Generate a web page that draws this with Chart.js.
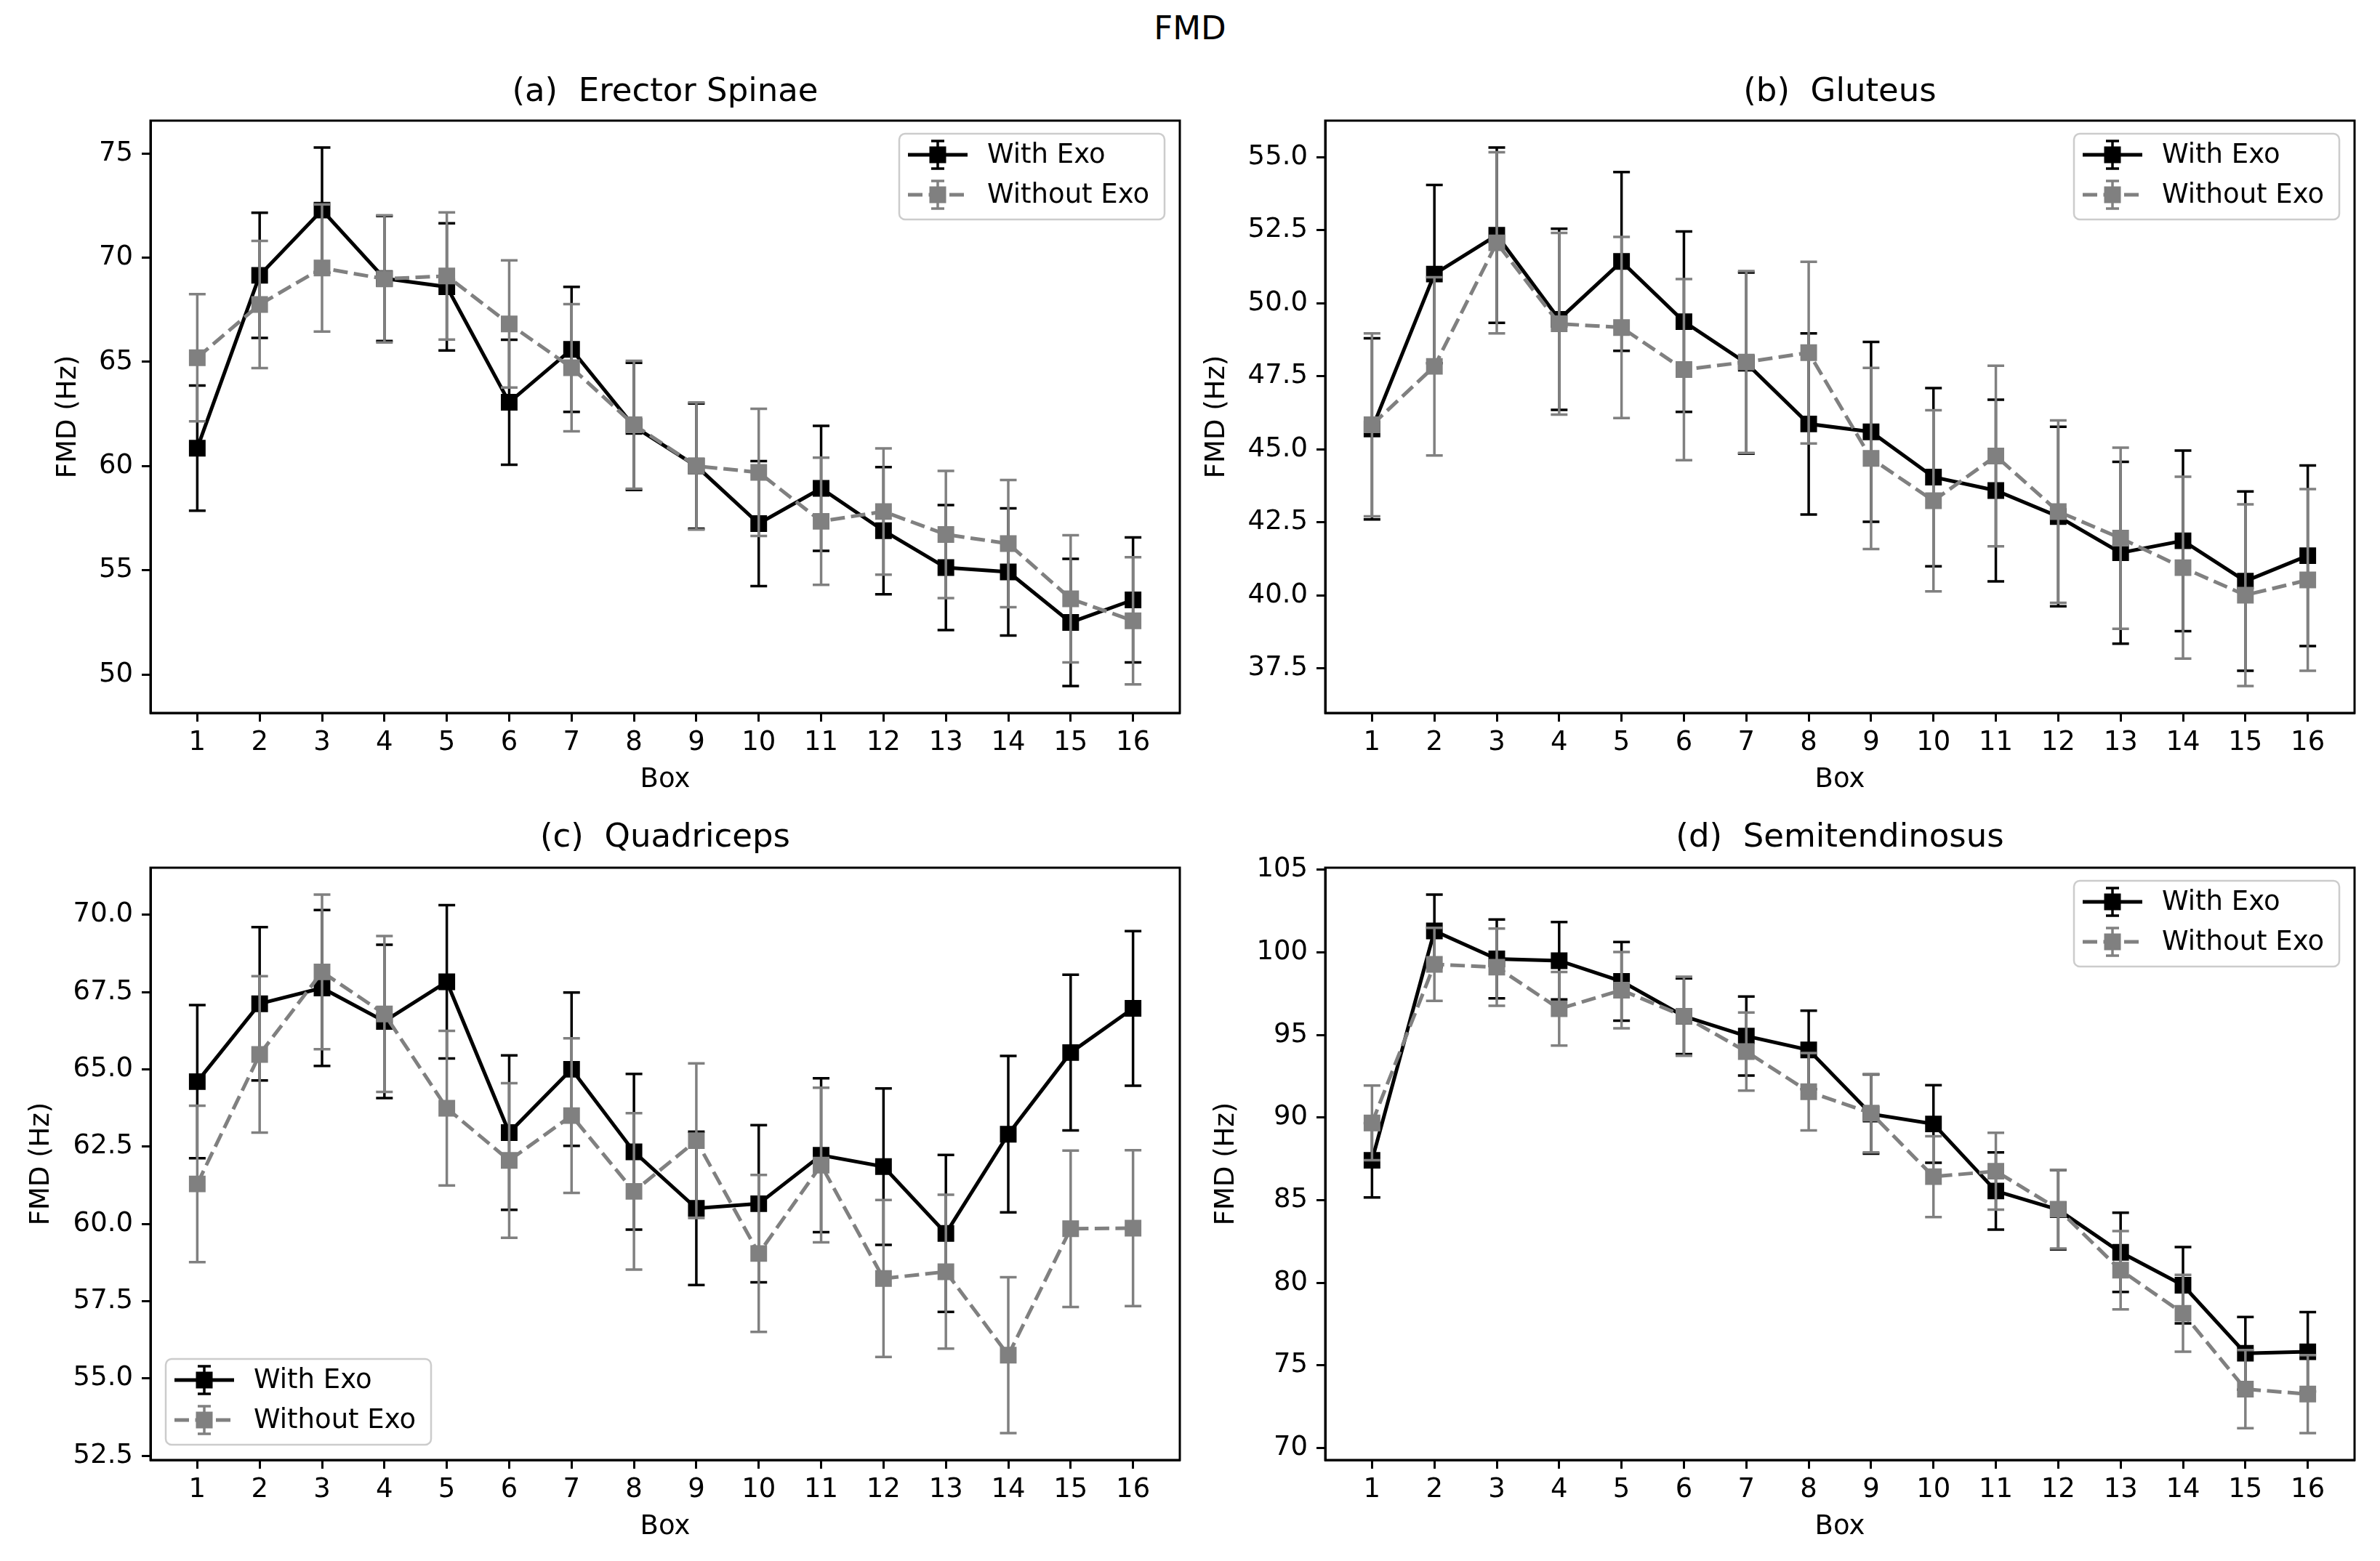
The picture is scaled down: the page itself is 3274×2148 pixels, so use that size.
<!DOCTYPE html>
<html>
<head>
<meta charset="utf-8">
<script src="https://cdn.jsdelivr.net/npm/chart.js@4.4.0/dist/chart.umd.min.js"></script>
<style>
  body { margin: 0; background: #fff; width: 3274px; height: 2148px; position: relative; overflow: hidden; font-family: 'DejaVu Sans', sans-serif; }
  #suptitle { position: absolute; left: 0; top: 12px; width: 3274px; text-align: center; font-size: 45px; line-height: 54px; color: #000; }
  canvas { position: absolute; }
</style>
</head>
<body>
<div id="suptitle">FMD</div>
<canvas id="chartA" width="1640" height="1000" style="left:0px;top:90px"></canvas>
<canvas id="chartB" width="1620" height="1000" style="left:1637px;top:90px"></canvas>
<canvas id="chartC" width="1640" height="1000" style="left:0px;top:1118px"></canvas>
<canvas id="chartD" width="1620" height="1000" style="left:1637px;top:1118px"></canvas>
<script>
// boxes on the x axis
const boxes = [1, 2, 3, 4, 5, 6, 7, 8, 9, 10, 11, 12, 13, 14, 15, 16];

// (a) Erector Spinae
const esWith = [60.86, 69.15, 72.28, 69.0, 68.6, 63.06, 65.6, 61.9, 60.0, 57.24, 58.93, 56.9, 55.13, 54.92, 52.5, 53.58];
const esWithErr = [3.0, 3.0, 3.0, 3.0, 3.05, 3.0, 3.0, 3.05, 3.0, 3.0, 3.0, 3.05, 3.0, 3.05, 3.05, 3.0];
const esWithout = [65.2, 67.75, 69.5, 68.98, 69.12, 66.82, 64.72, 61.98, 60.0, 59.7, 57.35, 57.82, 56.72, 56.28, 53.63, 52.58];
const esWithoutErr = [3.05, 3.05, 3.05, 3.05, 3.05, 3.05, 3.05, 3.07, 3.05, 3.05, 3.05, 3.03, 3.05, 3.05, 3.05, 3.05];
const esTicks = ['50', '55', '60', '65', '70', '75'];

// (b) Gluteus
const glWith = [45.7, 51.0, 52.33, 49.45, 51.43, 49.37, 47.95, 45.87, 45.6, 44.05, 43.59, 42.7, 41.46, 41.87, 40.49, 41.36];
const glWithErr = [3.1, 3.05, 3.0, 3.1, 3.06, 3.09, 3.1, 3.1, 3.08, 3.05, 3.11, 3.07, 3.11, 3.09, 3.07, 3.09];
const glWithout = [45.84, 47.84, 52.07, 49.3, 49.17, 47.73, 47.99, 48.31, 44.69, 43.24, 44.77, 42.87, 41.96, 40.95, 40.01, 40.53];
const glWithoutErr = [3.13, 3.05, 3.1, 3.11, 3.1, 3.1, 3.11, 3.11, 3.1, 3.1, 3.09, 3.12, 3.1, 3.11, 3.11, 3.11];
const glTicks = ['37.5', '40.0', '42.5', '45.0', '47.5', '50.0', '52.5', '55.0'];

// (c) Quadriceps
const qdWith = [64.6, 67.12, 67.63, 66.55, 67.83, 62.95, 65.0, 62.33, 60.5, 60.65, 62.22, 61.85, 59.69, 62.9, 65.54, 66.97];
const qdWithErr = [2.48, 2.48, 2.52, 2.48, 2.48, 2.5, 2.48, 2.52, 2.48, 2.54, 2.49, 2.53, 2.54, 2.53, 2.52, 2.5];
const qdWithout = [61.29, 65.48, 68.15, 66.79, 63.74, 62.05, 63.5, 61.05, 62.69, 59.04, 61.9, 58.23, 58.45, 55.75, 59.84, 59.86];
const qdWithoutErr = [2.53, 2.53, 2.5, 2.52, 2.5, 2.5, 2.5, 2.53, 2.5, 2.54, 2.5, 2.54, 2.49, 2.52, 2.53, 2.52];
const qdTicks = ['52.5', '55.0', '57.5', '60.0', '62.5', '65.0', '67.5', '70.0'];

// (d) Semitendinosus
const stWith = [87.41, 101.29, 99.6, 99.49, 98.24, 96.13, 94.93, 94.09, 90.21, 89.61, 85.55, 84.42, 81.84, 79.85, 75.73, 75.82];
const stWithErr = [2.25, 2.2, 2.39, 2.34, 2.38, 2.29, 2.39, 2.37, 2.4, 2.35, 2.34, 2.4, 2.4, 2.31, 2.2, 2.4];
const stWithout = [89.67, 99.27, 99.1, 96.58, 97.71, 96.13, 93.99, 91.56, 90.26, 86.42, 86.75, 84.45, 80.76, 78.15, 73.56, 73.26];
const stWithoutErr = [2.26, 2.21, 2.34, 2.23, 2.31, 2.39, 2.36, 2.34, 2.37, 2.45, 2.33, 2.38, 2.37, 2.33, 2.36, 2.36];
const stTicks = ['70', '75', '80', '85', '90', '95', '100', '105'];

Chart.defaults.font.family = "'DejaVu Sans', sans-serif";
Chart.defaults.color = '#000';

const GRAY = '#808080';
const FS = 37;

// vertical error bars with caps, drawn just under their own dataset
const errorBars = {
  id: 'errorBars',
  beforeDatasetDraw(chart, args) {
    const ds = chart.data.datasets[args.index];
    if (!ds.errors) return;
    const y = chart.scales.y;
    const ctx = chart.ctx;
    ctx.save();
    ctx.strokeStyle = ds.borderColor;
    ctx.lineWidth = 3.5;
    ctx.setLineDash([]);
    args.meta.data.forEach((pt, i) => {
      const v = ds.data[i].y, e = ds.errors[i];
      const top = y.getPixelForValue(v + e);
      const bot = y.getPixelForValue(v - e);
      ctx.beginPath();
      ctx.moveTo(pt.x, top); ctx.lineTo(pt.x, bot);
      ctx.moveTo(pt.x - 11.5, top); ctx.lineTo(pt.x + 11.5, top);
      ctx.moveTo(pt.x - 11.5, bot); ctx.lineTo(pt.x + 11.5, bot);
      ctx.stroke();
    });
    ctx.restore();
  }
};

// full box around the plot area
const frame = {
  id: 'frame',
  afterDatasetsDraw(chart) {
    const a = chart.chartArea, ctx = chart.ctx;
    ctx.save();
    ctx.strokeStyle = '#000';
    ctx.lineWidth = 3;
    ctx.strokeRect(a.left, a.top, a.right - a.left, a.bottom - a.top);
    ctx.restore();
  }
};

// matplotlib-like legend: line + marker + error bar handle
const exoLegend = {
  id: 'exoLegend',
  afterDraw(chart, args, opts) {
    const a = chart.chartArea, ctx = chart.ctx;
    const w = 365, h = 118;
    const x = opts.corner === 'll' ? a.left + 21 : a.right - 21 - w;
    const y = opts.corner === 'll' ? a.bottom - 21 - h : a.top + 18;
    ctx.save();
    ctx.beginPath();
    ctx.roundRect(x, y, w, h, 8);
    ctx.fillStyle = 'rgba(255,255,255,0.8)';
    ctx.fill();
    ctx.strokeStyle = '#cccccc';
    ctx.lineWidth = 2.5;
    ctx.stroke();
    chart.data.datasets.forEach((ds, i) => {
      const cy = y + 29 + i * 55;
      const mx = x + 53;
      ctx.strokeStyle = ds.borderColor;
      ctx.lineWidth = 3.5;
      ctx.setLineDash([]);
      ctx.beginPath();
      ctx.moveTo(mx, cy - 19); ctx.lineTo(mx, cy + 19);
      ctx.moveTo(mx - 9, cy - 19); ctx.lineTo(mx + 9, cy - 19);
      ctx.moveTo(mx - 9, cy + 19); ctx.lineTo(mx + 9, cy + 19);
      ctx.stroke();
      ctx.lineWidth = ds.borderWidth;
      ctx.setLineDash(ds.borderDash || []);
      ctx.beginPath();
      ctx.moveTo(x + 12, cy); ctx.lineTo(x + 94, cy);
      ctx.stroke();
      ctx.setLineDash([]);
      ctx.fillStyle = ds.borderColor;
      ctx.fillRect(mx - 11.5, cy - 11.5, 23, 23);
      ctx.fillStyle = '#000';
      ctx.font = FS + "px 'DejaVu Sans'";
      ctx.textBaseline = 'middle';
      ctx.textAlign = 'left';
      ctx.fillText(ds.label, x + 121, cy + 1);
    });
    ctx.restore();
  }
};

function points(vals) {
  return boxes.map((b, i) => ({ x: b, y: vals[i] }));
}

// y limits like matplotlib autoscale: data incl. error bars + 5% margin
function yLimits(sets) {
  let lo = Infinity, hi = -Infinity;
  sets.forEach(([v, e]) => v.forEach((val, i) => {
    lo = Math.min(lo, val - e[i]);
    hi = Math.max(hi, val + e[i]);
  }));
  const m = (hi - lo) * 0.05;
  return [lo - m, hi + m];
}

function makePanel(id, title, tickLabels, withV, withE, withoutV, withoutE, cfg) {
  const [ymin, ymax] = yLimits([[withV, withE], [withoutV, withoutE]]);
  const tickVals = tickLabels.map(Number);
  new Chart(document.getElementById(id), {
    type: 'line',
    data: {
      datasets: [
        {
          label: 'With Exo', data: points(withV), errors: withE,
          borderColor: '#000', backgroundColor: '#000', borderWidth: 5,
          pointStyle: 'rect', pointRadius: 14.8, pointBorderWidth: 2,
          pointBackgroundColor: '#000', pointBorderColor: '#000', order: 2
        },
        {
          label: 'Without Exo', data: points(withoutV), errors: withoutE,
          borderColor: GRAY, backgroundColor: GRAY, borderWidth: 5, borderDash: [20, 8.5],
          pointStyle: 'rect', pointRadius: 14.8, pointBorderWidth: 2,
          pointBackgroundColor: GRAY, pointBorderColor: GRAY, order: 1
        }
      ]
    },
    options: {
      responsive: false,
      animation: false,
      events: [],
      layout: { padding: { left: 0, right: cfg.rightPad, top: 0, bottom: 0 } },
      plugins: {
        legend: { display: false },
        tooltip: { enabled: false },
        title: {
          display: true, text: title, color: '#000', fullSize: false,
          font: { size: 45, weight: 'normal' },
          padding: cfg.titlePad
        },
        exoLegend: { corner: cfg.corner }
      },
      scales: {
        x: {
          type: 'linear', min: 0.25, max: 16.75,
          afterBuildTicks: (s) => { s.ticks = boxes.map(v => ({ value: v })); },
          afterFit: (s) => { s.height = 109; },
          ticks: { font: { size: FS }, color: '#000', padding: 7, maxRotation: 0, autoSkip: false },
          grid: { drawOnChartArea: false, drawTicks: true, tickLength: 12, tickWidth: 3, tickColor: '#000' },
          border: { display: true, color: '#000', width: 3 },
          title: { display: true, text: 'Box', font: { size: FS }, color: '#000', padding: { top: 0, bottom: -6 } }
        },
        y: {
          min: ymin, max: ymax,
          afterBuildTicks: (s) => { s.ticks = tickVals.map(v => ({ value: v })); },
          afterFit: (s) => { s.width = cfg.yWidth; },
          ticks: { font: { size: FS }, color: '#000', padding: 12, autoSkip: false,
                   callback: (v, i) => tickLabels[i] },
          grid: { drawOnChartArea: false, drawTicks: true, tickLength: 12, tickWidth: 3, tickColor: '#000' },
          border: { display: true, color: '#000', width: 3 },
          title: { display: true, text: 'FMD (Hz)', font: { size: FS }, color: '#000', padding: { top: cfg.yTitlePad, bottom: 0 } }
        }
      }
    },
    plugins: [errorBars, frame, exoLegend]
  });
}

makePanel('chartA', '(a)  Erector Spinae', esTicks, esWith, esWithErr, esWithout, esWithoutErr,
  { corner: 'ur', yWidth: 207, rightPad: 17, titlePad: { top: 10, bottom: 12 }, yTitlePad: 72 });
makePanel('chartB', '(b)  Gluteus', glTicks, glWith, glWithErr, glWithout, glWithoutErr,
  { corner: 'ur', yWidth: 186, rightPad: 18, titlePad: { top: 10, bottom: 12 }, yTitlePad: 15 });
makePanel('chartC', '(c)  Quadriceps', qdTicks, qdWith, qdWithErr, qdWithout, qdWithoutErr,
  { corner: 'll', yWidth: 207, rightPad: 17, titlePad: { top: 8, bottom: 14 }, yTitlePad: 35 });
makePanel('chartD', '(d)  Semitendinosus', stTicks, stWith, stWithErr, stWithout, stWithoutErr,
  { corner: 'ur', yWidth: 186, rightPad: 18, titlePad: { top: 8, bottom: 14 }, yTitlePad: 28 });
</script>
</body>
</html>
